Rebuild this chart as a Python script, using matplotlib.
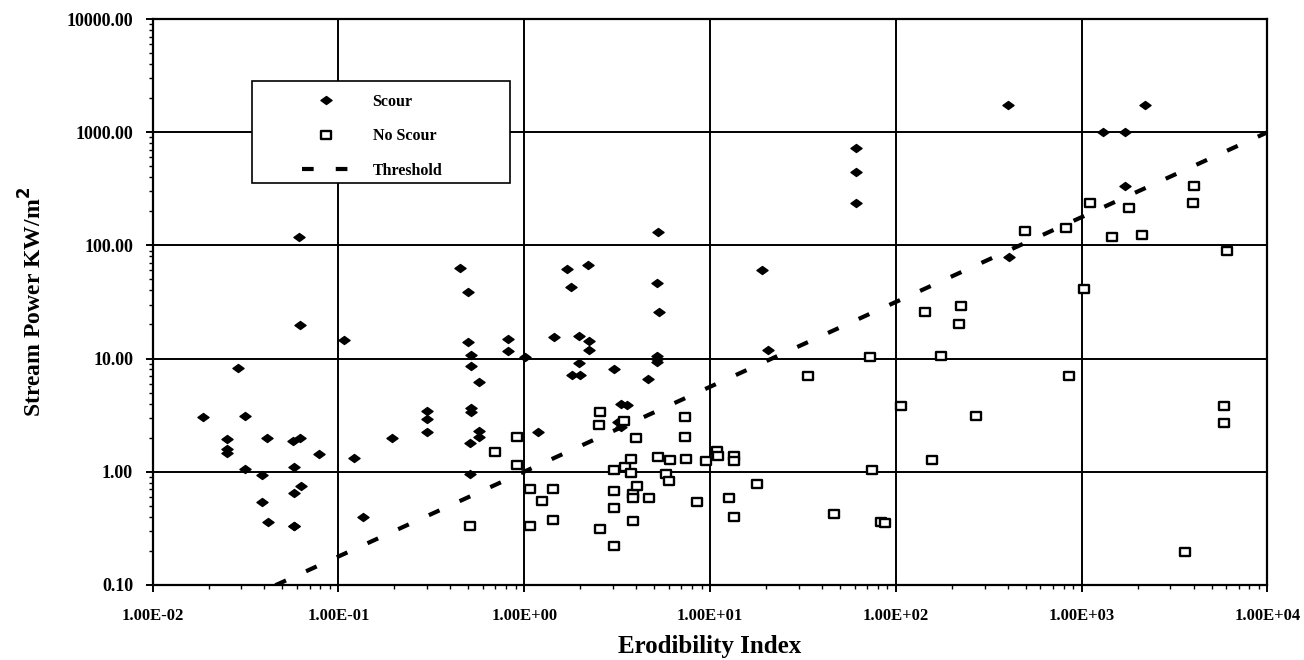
import numpy as np
import matplotlib
matplotlib.use("Agg")
import matplotlib.pyplot as plt
from matplotlib.path import Path
from matplotlib.patches import Rectangle
from matplotlib.ticker import FuncFormatter, LogLocator, NullFormatter

# Scour observations (erodibility index, stream power)
scour_x = [0.0187, 0.025, 0.025, 0.025, 0.029, 0.0316, 0.0316, 0.039, 0.039,
           0.0415, 0.042, 0.057, 0.058, 0.058, 0.058, 0.058, 0.062, 0.062,
           0.0615, 0.063, 0.079, 0.107, 0.121, 0.136, 0.194, 0.30, 0.30, 0.30,
           0.45, 0.50, 0.50, 0.51, 0.51, 0.52, 0.52, 0.52, 0.52, 0.57, 0.57,
           0.57, 0.82, 0.82, 1.01, 1.19, 1.45, 1.70, 1.79, 1.81, 1.98, 1.98,
           2.0, 2.20, 2.24, 2.24, 3.03, 3.2, 3.3, 3.3, 3.58, 4.63, 5.2, 5.2,
           5.2, 5.25, 5.3, 5.2, 19.1, 20.5, 61.4, 61.4, 61.4, 399, 407, 1300,
           1720, 1720, 2188]
scour_y = [3.03, 1.94, 1.58, 1.45, 8.2, 3.13, 1.05, 0.94, 0.54,
           1.98, 0.36, 1.85, 1.11, 0.65, 0.33, 0.33, 1.98, 19.8,
           118, 0.75, 1.43, 14.6, 1.32, 0.40, 1.98, 3.44, 2.93, 2.26,
           62.8, 38.5, 14.1, 1.79, 0.96, 10.8, 8.6, 3.64, 3.40, 6.25, 2.29,
           2.04, 14.8, 11.7, 10.3, 2.25, 15.4, 62, 43, 7.2, 15.8, 9.1,
           7.2, 67, 14.4, 11.9, 8.1, 2.77, 3.97, 2.5, 3.9, 6.56, 10.5, 9.86,
           9.4, 132, 25.6, 46.9, 60.6, 11.9, 721, 443, 236, 1754, 78.9, 1000,
           1000, 332, 1754]

# No scour observations
noscour_x = [0.51, 0.70, 0.92, 0.92, 1.07, 1.08, 1.25, 1.43, 1.43, 2.54, 2.57,
             2.57, 3.06, 3.06, 3.06, 3.06, 3.44, 3.47, 3.77, 3.77, 3.85, 3.85,
             3.85, 4.02, 4.06, 4.7, 5.26, 5.83, 6.03, 6.08, 7.36, 7.36, 7.42,
             8.47, 9.5, 10.9, 11.1, 12.7, 13.5, 13.5, 13.5, 18, 33.5, 46.4,
             72.6, 74, 83, 87, 106, 144, 157, 176, 220, 225, 269, 498, 828,
             853, 1030, 1110, 1456, 1790, 2117, 3590, 3990, 4030, 5820, 5820,
             6070]
noscour_y = [0.33, 1.48, 2.01, 1.15, 0.70, 0.33, 0.555, 0.70, 0.375, 2.6, 3.38,
             0.31, 1.03, 0.67, 0.48, 0.22, 2.82, 1.11, 1.29, 0.97, 0.64, 0.59,
             0.365, 1.97, 0.75, 0.586, 1.34, 0.95, 0.83, 1.28, 3.06, 2.01, 1.29,
             0.54, 1.25, 1.53, 1.38, 0.59, 1.38, 1.25, 0.395, 0.77, 7.0, 0.42,
             10.3, 1.04, 0.357, 0.35, 3.8, 25.7, 1.27, 10.6, 20.2, 29.4, 3.09,
             133, 143, 7.0, 41.5, 238, 119, 215, 123, 0.194, 238, 334, 3.79,
             2.69, 89]

# Threshold line end points
threshold_x = [0.01, 10000]
threshold_y = [0.0316, 1000]

x_ticks = [1e-2, 1e-1, 1e0, 1e1, 1e2, 1e3, 1e4]
y_ticks = [0.1, 1, 10, 100, 1000, 10000]

plt.rcParams['font.family'] = ['Liberation Serif', 'DejaVu Serif']
plt.rcParams['font.weight'] = 'bold'

diamond = Path([(-1, 0), (0, 0.72), (1, 0), (0, -0.72), (-1, 0)],
               [Path.MOVETO, Path.LINETO, Path.LINETO, Path.LINETO,
                Path.CLOSEPOLY])
box = Path([(-1, -0.72), (1, -0.72), (1, 0.72), (-1, 0.72), (-1, -0.72)],
           [Path.MOVETO, Path.LINETO, Path.LINETO, Path.LINETO,
            Path.CLOSEPOLY])

fig = plt.figure(figsize=(13.04, 6.6), dpi=100)
ax = fig.add_axes([0.117, 0.114, 0.855, 0.857])

ax.plot(scour_x, scour_y, linestyle='none', marker=diamond, ms=8,
        color='black', label='Scour', zorder=4)
ax.plot(noscour_x, noscour_y, linestyle='none', marker=box, ms=7.5,
        mfc='white', mec='black', mew=1.7, label='No Scour', zorder=4)
ax.plot(threshold_x, threshold_y, color='black', lw=3,
        dashes=(2.8, 5.3), dash_capstyle='butt', label='Threshold', zorder=3)

ax.set_xscale('log')
ax.set_yscale('log')
ax.set_xlim(1e-2, 1e4)
ax.set_ylim(0.1, 10000)
ax.set_xticks(x_ticks)
ax.set_yticks(y_ticks)
ax.xaxis.set_minor_locator(LogLocator(base=10, subs=np.arange(2, 10)))
ax.yaxis.set_minor_locator(LogLocator(base=10, subs=np.arange(2, 10)))
ax.xaxis.set_minor_formatter(NullFormatter())
ax.yaxis.set_minor_formatter(NullFormatter())
ax.xaxis.set_major_formatter(FuncFormatter(lambda v, p: '%.2E' % v))
ax.yaxis.set_major_formatter(FuncFormatter(lambda v, p: '%.2f' % v))

ax.grid(True, which='major', color='black', lw=1.4)
for s in ax.spines.values():
    s.set_linewidth(1.6)
ax.tick_params(which='major', direction='out', length=5, width=1.4)
ax.tick_params(which='minor', direction='out', length=3, width=1)
ax.tick_params(axis='x', which='major', labelsize=12, pad=12)
ax.tick_params(axis='y', which='major', labelsize=13, pad=9)
for lab in ax.get_xticklabels() + ax.get_yticklabels():
    lab.set_fontweight('bold')

ax.set_xlabel('Erodibility Index', fontsize=18, fontweight='bold',
              labelpad=8)
ax.set_ylabel('Stream Power KW/m$^{\\mathbf{2}}$', fontsize=17,
              fontweight='bold', labelpad=14)

# legend frame drawn as a plain box, entries placed inside it
ax.add_patch(Rectangle((0.0888, 0.710), 0.232, 0.180, transform=ax.transAxes,
                       facecolor='white', edgecolor='black', lw=1.2,
                       zorder=5))
leg = ax.legend(loc='upper left', bbox_to_anchor=(0.1336, 0.868),
                frameon=False, borderpad=0, labelspacing=1.15,
                handlelength=3.1, handletextpad=1.35, borderaxespad=0,
                prop={'family': 'Liberation Serif', 'weight': 'bold',
                      'size': 11.5})
leg.set_zorder(6)

fig.savefig('out.png', dpi=100)
